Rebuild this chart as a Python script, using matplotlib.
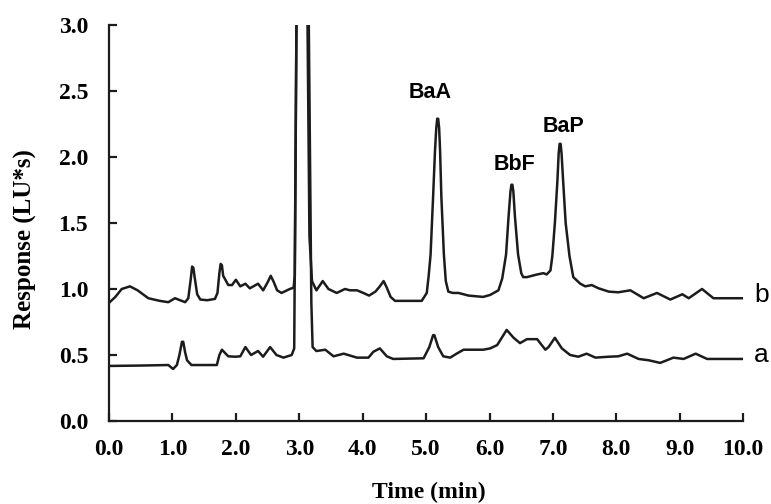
import matplotlib
matplotlib.use("Agg")
import matplotlib.pyplot as plt

# Chromatogram readings (time in min, response in LU*s)
time_b = [0.00, 0.10, 0.20, 0.33, 0.45, 0.62, 0.80, 0.935, 1.04, 1.12, 1.20, 1.25, 1.29, 1.31, 1.33, 1.35,
          1.39, 1.44, 1.55, 1.67, 1.71, 1.74, 1.76, 1.78, 1.80, 1.88, 1.94, 2.00, 2.07, 2.15, 2.22, 2.35,
          2.43, 2.50, 2.55, 2.60, 2.65, 2.72, 2.85, 2.91, 2.93, 2.955, 3.04, 3.13, 3.16, 3.20, 3.27,
          3.37, 3.46, 3.59, 3.72, 3.80, 3.91, 4.01, 4.10, 4.20, 4.27, 4.33, 4.38, 4.44, 4.51, 4.70,
          4.93, 5.01, 5.04, 5.07, 5.11, 5.14, 5.16, 5.175, 5.19, 5.205, 5.22, 5.24, 5.28, 5.31, 5.35, 5.42,
          5.51, 5.67, 5.90, 6.01, 6.14, 6.20, 6.26, 6.30, 6.33, 6.345, 6.36, 6.375, 6.40, 6.45, 6.50, 6.53,
          6.59, 6.75, 6.85, 6.90, 6.96, 6.99, 7.03, 7.07, 7.09, 7.105, 7.12, 7.135, 7.16, 7.20, 7.26, 7.32,
          7.43, 7.51, 7.61, 7.72, 7.88, 8.03, 8.22, 8.43, 8.64, 8.85, 9.04, 9.14, 9.35, 9.53, 10.00]
resp_b = [0.895, 0.94, 1.00, 1.02, 0.99, 0.93, 0.91, 0.90, 0.93, 0.915, 0.90, 0.93, 1.08, 1.17, 1.16, 1.09,
          0.96, 0.92, 0.915, 0.925, 0.97, 1.12, 1.19, 1.18, 1.10, 1.03, 1.03, 1.07, 1.02, 1.04, 1.005, 1.04,
          0.99, 1.05, 1.10, 1.05, 0.99, 0.97, 1.00, 1.01, 1.10, 3.00, 4.50, 3.00, 1.40, 1.06, 0.99,
          1.06, 1.00, 0.97, 1.00, 0.99, 0.99, 0.97, 0.95, 0.98, 1.02, 1.06, 1.01, 0.94, 0.91, 0.91,
          0.91, 0.97, 1.10, 1.26, 1.70, 2.05, 2.22, 2.29, 2.29, 2.22, 2.05, 1.70, 1.26, 1.06, 0.98, 0.97,
          0.97, 0.95, 0.94, 0.955, 0.99, 1.08, 1.26, 1.55, 1.74, 1.79, 1.79, 1.74, 1.55, 1.26, 1.12, 1.09,
          1.09, 1.11, 1.12, 1.11, 1.14, 1.25, 1.50, 1.82, 2.03, 2.10, 2.10, 2.03, 1.82, 1.50, 1.25, 1.09,
          1.04, 1.02, 1.03, 1.005, 0.98, 0.975, 0.99, 0.93, 0.97, 0.92, 0.96, 0.93, 1.00, 0.93, 0.93]

time_a = [0.00, 0.50, 0.935, 1.01, 1.07, 1.11, 1.15, 1.17, 1.20, 1.23, 1.30, 1.50, 1.70, 1.74, 1.78, 1.88,
          1.99, 2.07, 2.15, 2.24, 2.35, 2.43, 2.54, 2.64, 2.75, 2.88, 2.92, 2.955, 3.06, 3.15, 3.19,
          3.21, 3.27, 3.41, 3.54, 3.70, 3.91, 4.09, 4.17, 4.27, 4.38, 4.48, 4.96, 5.05, 5.11, 5.13, 5.19,
          5.27, 5.38, 5.48, 5.59, 5.90, 6.01, 6.12, 6.27, 6.38, 6.48, 6.59, 6.75, 6.88, 6.93, 7.03,
          7.14, 7.27, 7.40, 7.53, 7.67, 7.88, 8.03, 8.17, 8.35, 8.51, 8.69, 8.90, 9.06, 9.25, 9.43,
          10.00]
resp_a = [0.417, 0.42, 0.424, 0.394, 0.424, 0.50, 0.60, 0.60, 0.52, 0.46, 0.424, 0.424, 0.424, 0.50, 0.54, 0.49,
          0.487, 0.49, 0.56, 0.50, 0.53, 0.487, 0.56, 0.50, 0.48, 0.50, 0.55, 3.00, 4.50, 3.00, 0.90,
          0.56, 0.53, 0.54, 0.49, 0.51, 0.48, 0.48, 0.525, 0.55, 0.49, 0.47, 0.475, 0.56, 0.65, 0.65, 0.56,
          0.49, 0.48, 0.51, 0.54, 0.54, 0.55, 0.575, 0.69, 0.63, 0.59, 0.62, 0.62, 0.54, 0.56, 0.63,
          0.55, 0.50, 0.487, 0.51, 0.48, 0.487, 0.49, 0.51, 0.47, 0.46, 0.44, 0.48, 0.47, 0.51, 0.47,
          0.47]

peak_names = ["BaA", "BbF", "BaP"]
peak_label_x = [5.06, 6.39, 7.16]
peak_label_y = [2.49, 1.94, 2.23]

trace_names = ["b", "a"]
trace_label_y = [0.955, 0.50]

x_ticks = [0, 1, 2, 3, 4, 5, 6, 7, 8, 9, 10]
y_ticks = [0.0, 0.5, 1.0, 1.5, 2.0, 2.5, 3.0]

LINE_COLOR = "#1c1c1c"
SERIF = "Liberation Serif"
SANS = "Liberation Sans"


def main():
    fig = plt.figure(figsize=(7.71, 5.04), dpi=100)
    ax = fig.add_axes([0.1414, 0.1647, 0.8226, 0.7857])

    ax.plot(time_b, resp_b, color=LINE_COLOR, linewidth=1.8, solid_joinstyle="round")
    ax.plot(time_a, resp_a, color=LINE_COLOR, linewidth=1.8, solid_joinstyle="round")

    ax.set_xlim(0, 10)
    ax.set_ylim(0, 3.0)
    ax.set_xticks(x_ticks)
    ax.set_yticks(y_ticks)
    ax.set_xticklabels([f"{t:.1f}" for t in x_ticks])
    ax.set_yticklabels([f"{t:.1f}" for t in y_ticks])

    for side in ("top", "right"):
        ax.spines[side].set_visible(False)
    for side in ("left", "bottom"):
        ax.spines[side].set_linewidth(1.6)
        ax.spines[side].set_color(LINE_COLOR)

    ax.tick_params(direction="in", length=6, width=1.6, color=LINE_COLOR)
    ax.tick_params(axis="x", pad=13)
    ax.tick_params(axis="y", pad=15)
    for lbl in ax.get_xticklabels() + ax.get_yticklabels():
        lbl.set_fontfamily(SERIF)
        lbl.set_fontweight("bold")
        lbl.set_fontsize(17)

    ax.set_xlabel("Time (min)", fontfamily=SERIF, fontweight="bold", fontsize=17)
    ax.set_ylabel("Response (LU*s)", fontfamily=SERIF, fontweight="bold", fontsize=18)
    ax.xaxis.set_label_coords(0.505, -0.153)
    ax.yaxis.set_label_coords(-0.113, 0.46)

    for name, x, y in zip(peak_names, peak_label_x, peak_label_y):
        ax.text(x, y, name, ha="center", va="center", fontfamily=SANS,
                fontweight="bold", fontsize=15.5)

    for name, y in zip(trace_names, trace_label_y):
        ax.text(10.17, y, name, ha="left", va="center", fontfamily=SANS,
                fontsize=19, clip_on=False)

    fig.savefig("out.png", dpi=100)
    plt.close(fig)


if __name__ == "__main__":
    main()
